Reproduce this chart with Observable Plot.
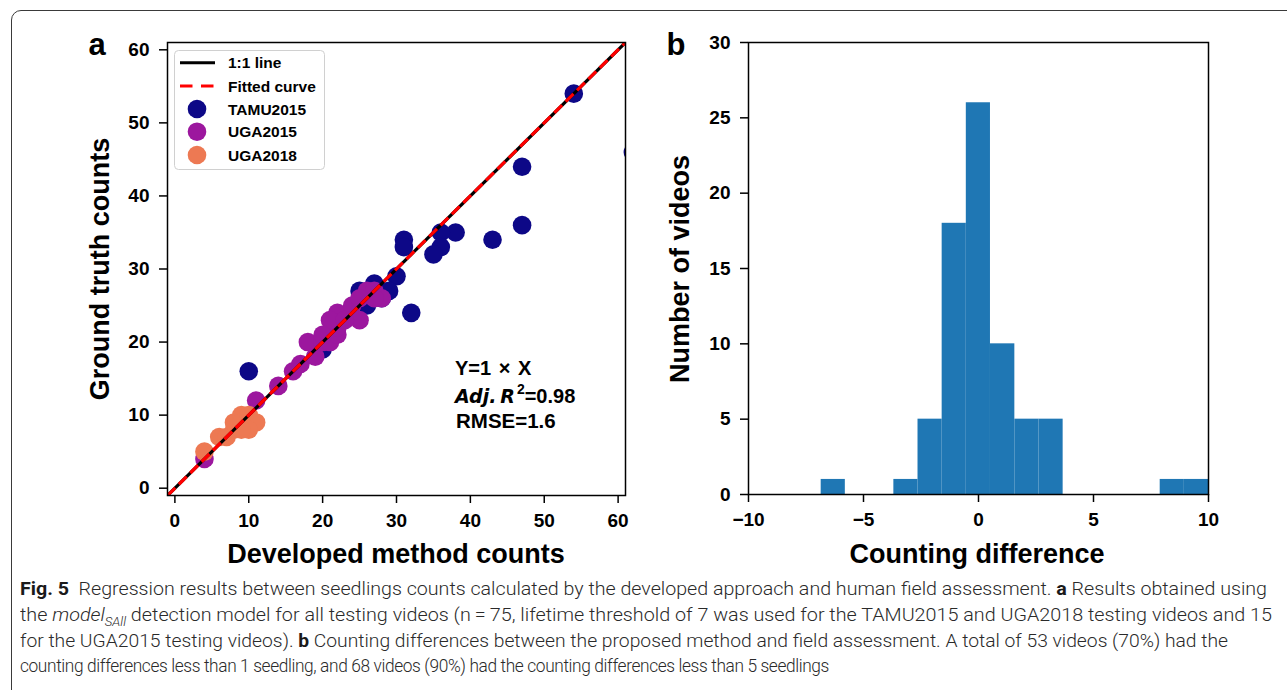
<!DOCTYPE html>
<html><head><meta charset="utf-8">
<script src="https://cdn.jsdelivr.net/npm/d3@7"></script>
<script src="https://cdn.jsdelivr.net/npm/@observablehq/plot@0.6"></script>
<style>
body{margin:0;background:#fff;width:1287px;height:690px;overflow:hidden;position:relative;font-family:"Liberation Sans",Arial,sans-serif;}
#frame{position:absolute;left:11px;top:10px;width:1320px;height:720px;border:1px solid #3a3a3a;border-top-left-radius:10px;box-sizing:border-box;}
#pa,#pb,#overlay,#legend{position:absolute;top:0;}
#pa{left:0}
#pb{left:640px}
#overlay{left:0;top:0;pointer-events:none}
#legend{left:174px;top:50px}
.cap{position:absolute;left:20px;white-space:nowrap;transform-origin:0 0;font-family:Roboto,"Noto Sans",sans-serif;font-weight:300;font-size:18px;color:#2a2a2a;line-height:20px;}
.cap b{font-weight:bold;color:#1a1a1a}
</style></head>
<body>
<div id="frame"></div>
<div id="pa"></div>
<div id="pb"></div>
<svg id="legend" width="152" height="121"></svg>
<svg id="overlay" width="1287" height="690"></svg>
<div class="cap" data-w="1247" style="top:579px"><b>Fig. 5</b>&nbsp; Regression results between seedlings counts calculated by the developed approach and human field assessment. <b>a</b> Results obtained using</div>
<div class="cap" data-w="1252" style="top:605px">the <i>model<sub style="font-size:12px">SAll</sub></i> detection model for all testing videos (n&#8201;=&#8201;75, lifetime threshold of 7 was used for the TAMU2015 and UGA2018 testing videos and 15</div>
<div class="cap" data-w="1208" style="top:631px">for the UGA2015 testing videos). <b>b</b> Counting differences between the proposed method and field assessment. A total of 53 videos (70%) had the</div>
<div class="cap" data-w="809" style="top:656px;letter-spacing:-0.4px">counting differences less than 1 seedling, and 68 videos (90%) had the counting differences less than 5 seedlings</div>
<script>
// ---------------- data ----------------
const seriesNames = ["TAMU2015", "UGA2015", "UGA2018"];
const seriesColors = ["#0d0887", "#9c179e", "#ed7953"];

const tamuX = [54, 47, 47, 43, 38, 36, 36, 35, 31, 31, 30, 32, 10, 62, 27, 25, 29, 28, 26, 20, 20];
const tamuY = [54, 44, 36, 34, 35, 35, 33, 32, 34, 33, 29, 24, 16, 46, 28, 27, 27, 26, 25, 20, 19];

const uga15X = [4, 11, 14, 16, 17, 19, 18, 20, 21, 22, 22, 22, 21, 24, 25, 26, 27, 28, 27, 20, 23, 25];
const uga15Y = [4, 12, 14, 16, 17, 18, 20, 20, 20, 21, 22, 24, 23, 25, 23, 27, 27, 26, 26, 21, 23, 26];

const uga18X = [4, 6, 7, 8, 8, 9, 9, 10, 10, 11, 10, 9];
const uga18Y = [5, 7, 7, 8, 9, 10, 9, 10, 9, 9, 8, 8];

const diagX = [-1, 61];          // 1:1 line and fitted curve Y = 1 x X
const fitSlope = 1;

const axisTicksA = [0, 10, 20, 30, 40, 50, 60];

const binX1 = [-6.84, -3.68, -2.63, -1.58, -0.53, 0.52, 1.58, 2.63, 7.90, 8.95];
const binX2 = [-5.79, -2.63, -1.58, -0.53, 0.52, 1.58, 2.63, 3.68, 8.95, 10.0];
const binCounts = [1, 1, 5, 18, 26, 10, 5, 5, 1, 1];
const xTicksB = [-10, -5, 0, 5, 10];
const yTicksB = [0, 5, 10, 15, 20, 25, 30];

// ---------------- helpers ----------------
const pts = (xs, ys) => xs.map((x, i) => ({x, y: ys[i]}));
const minus = d => d < 0 ? "\u2212" + Math.abs(d) : String(d);
const axStyle = {tickSize: 8, tickPadding: 10, strokeWidth: 1.5, fontSize: 19, fontWeight: "bold", label: null};
const svgStyle = {fontFamily: "'Liberation Sans', Arial, sans-serif", fontSize: "19px", fontWeight: "bold", color: "black", background: "transparent", overflow: "visible"};

// ---------------- panel a ----------------
const diag = diagX.map(x => ({x, y: x}));
const fit = diagX.map(x => ({x, y: fitSlope * x}));
const pa = Plot.plot({
  width: 640, height: 540,
  marginLeft: 167, marginRight: 15, marginTop: 42, marginBottom: 45,
  style: svgStyle,
  x: {domain: [-1, 61]},
  y: {domain: [-1, 61]},
  marks: [
    Plot.dot(pts(tamuX, tamuY), {x: "x", y: "y", r: 9.3, fill: seriesColors[0], clip: true}),
    Plot.dot(pts(uga15X, uga15Y), {x: "x", y: "y", r: 9.3, fill: seriesColors[1], clip: true}),
    Plot.dot(pts(uga18X, uga18Y), {x: "x", y: "y", r: 9.3, fill: seriesColors[2], clip: true}),
    Plot.line(diag, {x: "x", y: "y", stroke: "black", strokeWidth: 3.2, strokeLinecap: "butt", clip: true}),
    Plot.line(fit, {x: "x", y: "y", stroke: "#ff0000", strokeWidth: 3.2, strokeDasharray: "11,5", strokeLinecap: "butt", clip: true}),
    Plot.axisX({ticks: axisTicksA, ...axStyle}),
    Plot.axisY({ticks: axisTicksA, ...axStyle}),
    Plot.frame({stroke: "black", strokeWidth: 1.5})
  ]
});
document.getElementById("pa").appendChild(pa);

// ---------------- panel b ----------------
const bins = binX1.map((x1, i) => ({x1, x2: binX2[i], c: binCounts[i]}));
const pb = Plot.plot({
  width: 640, height: 540,
  marginLeft: 108, marginRight: 72, marginTop: 42, marginBottom: 46,
  style: svgStyle,
  x: {domain: [-10, 10]},
  y: {domain: [0, 30]},
  marks: [
    Plot.rect(bins, {x1: "x1", x2: "x2", y1: 0, y2: "c", fill: "#1f77b4"}),
    Plot.axisX({ticks: xTicksB, tickFormat: minus, ...axStyle}),
    Plot.axisY({ticks: yTicksB, ...axStyle}),
    Plot.frame({stroke: "black", strokeWidth: 1.5})
  ]
});
document.getElementById("pb").appendChild(pb);

// ---------------- legend (panel a) ----------------
const lg = d3.select("#legend");
lg.append("rect").attr("x", 0.5).attr("y", 0.5).attr("width", 150).attr("height", 119).attr("rx", 4)
  .attr("fill", "white").attr("fill-opacity", 0.8).attr("stroke", "#d0d0d0");
lg.append("line").attr("x1", 6).attr("x2", 41).attr("y1", 12.7).attr("y2", 12.7).attr("stroke", "black").attr("stroke-width", 3);
lg.append("line").attr("x1", 6).attr("x2", 40).attr("y1", 36).attr("y2", 36).attr("stroke", "#ff0000").attr("stroke-width", 3).attr("stroke-dasharray", "12.5,8.5");
const legendLabels = ["1:1 line", "Fitted curve", ...seriesNames];
const rowY = [12.7, 36, 59, 81.7, 105];
seriesNames.forEach((n, i) => {
  lg.append("circle").attr("cx", 23).attr("cy", rowY[i + 2]).attr("r", 9.3).attr("fill", seriesColors[i]);
});
legendLabels.forEach((t, i) => {
  lg.append("text").attr("x", 54).attr("y", rowY[i] + 5.6).text(t)
    .attr("font-family", "'Liberation Sans', Arial, sans-serif").attr("font-weight", "bold").attr("font-size", 15.5);
});

// ---------------- overlay text ----------------
const ov = d3.select("#overlay").attr("font-family", "'Liberation Sans', Arial, sans-serif").attr("font-weight", "bold");
ov.append("text").attr("x", 97).attr("y", 55).attr("text-anchor", "middle").attr("font-size", 31).text("a");
ov.append("text").attr("x", 676).attr("y", 55).attr("text-anchor", "middle").attr("font-size", 31).text("b");
ov.append("text").attr("x", 396).attr("y", 563).attr("text-anchor", "middle").attr("font-size", 27).text("Developed method counts");
ov.append("text").attr("x", 977).attr("y", 563).attr("text-anchor", "middle").attr("font-size", 27).text("Counting difference");
ov.append("text").attr("transform", "translate(109,269) rotate(-90)").attr("text-anchor", "middle").attr("font-size", 27).text("Ground truth counts");
ov.append("text").attr("transform", "translate(689,269) rotate(-90)").attr("text-anchor", "middle").attr("font-size", 27).text("Number of videos");
ov.append("text").attr("x", 455).attr("y", 375).attr("font-size", 20).text("Y=1 \u00d7 X").attr("word-spacing", 2);
const t2 = ov.append("text").attr("x", 455).attr("y", 403).attr("font-size", 20);
t2.append("tspan").attr("font-style", "italic").attr("font-family", "'DejaVu Sans', sans-serif").attr("font-size", 19).text("Adj.\u2009R");
t2.append("tspan").attr("dy", -9).attr("font-size", 14).attr("dx", 2).text("2");
t2.append("tspan").attr("dy", 9).text("=0.98");
ov.append("text").attr("x", 456).attr("y", 428).attr("font-size", 20.5).text("RMSE=1.6");

// ---------------- caption fitting ----------------
function fitCaption() {
  document.querySelectorAll(".cap").forEach(el => {
    el.style.transform = "none";
    const w = el.getBoundingClientRect().width;
    el.style.transform = `scaleX(${(+el.dataset.w) / w})`;
  });
}
fitCaption();
if (document.fonts && document.fonts.ready) document.fonts.ready.then(fitCaption);
</script>
</body></html>
